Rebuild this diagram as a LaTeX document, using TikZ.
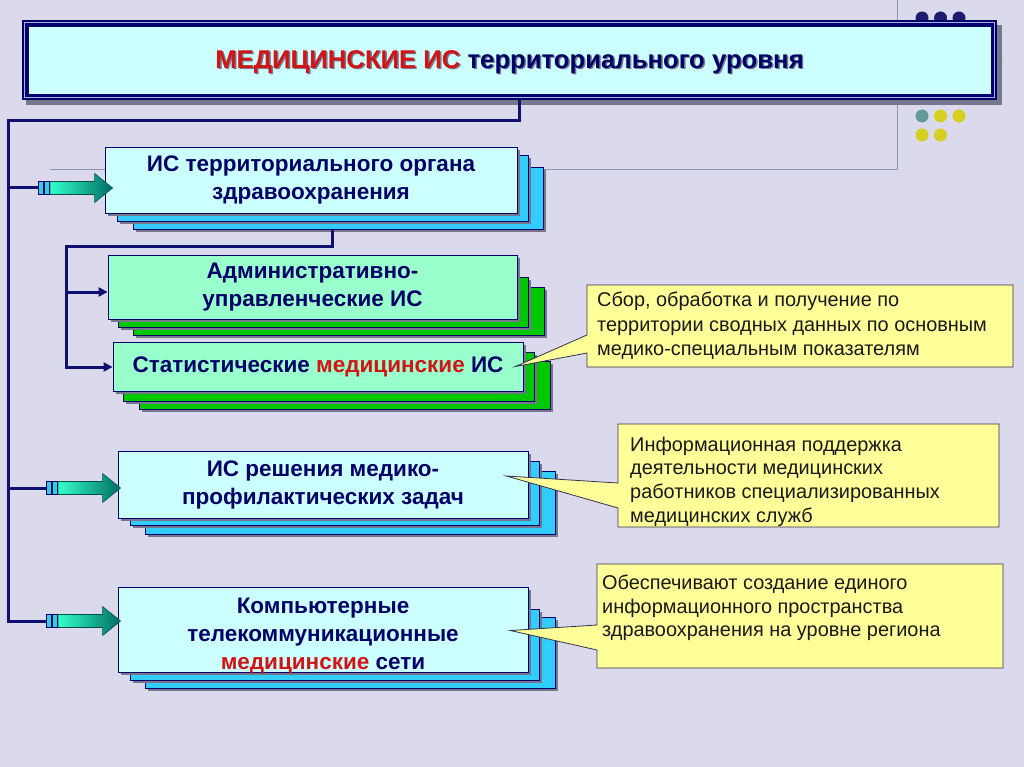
\documentclass[tikz,border=0pt]{standalone}
\usepackage{fontspec}
\setmainfont{Liberation Sans}
\usetikzlibrary{arrows.meta,shadows}
\definecolor{bg}{RGB}{218,218,236}
\definecolor{guide}{RGB}{140,150,175}
\definecolor{navyb}{RGB}{0,0,110}
\definecolor{navyt}{RGB}{0,0,102}
\definecolor{trunkc}{RGB}{16,16,112}
\definecolor{redt}{RGB}{210,20,20}
\definecolor{frontcyan}{RGB}{204,255,255}
\definecolor{backblue}{RGB}{51,204,255}
\definecolor{mint}{RGB}{153,255,204}
\definecolor{greenl}{RGB}{0,200,0}
\definecolor{calloutyellow}{RGB}{255,255,153}
\definecolor{calloutline}{RGB}{50,50,80}
\definecolor{shadowgray}{RGB}{118,118,140}
\definecolor{dotnavy}{RGB}{28,28,110}
\definecolor{dotyellow}{RGB}{214,206,32}
\definecolor{dotteal}{RGB}{102,153,153}
\definecolor{teallight}{RGB}{51,255,204}
\definecolor{tealdark}{RGB}{0,110,100}
\definecolor{tealline}{RGB}{0,80,80}
\definecolor{stripec}{RGB}{51,204,221}
\definecolor{titleline}{RGB}{170,175,225}
\definecolor{textdark}{RGB}{25,25,25}

\newcommand\mylayer[5]{%
  \fill[shadowgray] (#1+3,#2+3) rectangle (#3+3,#4+3);
  \filldraw[fill=#5,draw=navyb,line width=0.7pt] (#1,#2) rectangle (#3,#4);}

\begin{document}
\begin{tikzpicture}[x=1pt,y=-1pt,
  trunk/.style={draw=trunkc,line width=3pt},
  frontbox/.style={draw=navyb,line width=0.8pt,inner sep=0pt,align=center,text=navyt,
    font=\fontsize{22.5}{28}\selectfont\bfseries,
    drop shadow={shadow xshift=3pt,shadow yshift=-3pt,fill=shadowgray,opacity=1}},
  boxtext/.style={inner sep=0pt,align=center,text=navyt,font=\fontsize{22.5}{28}\selectfont\bfseries},
  callout/.style={fill=calloutyellow,draw=calloutline,line width=0.8pt},
  callouttext/.style={anchor=west,inner sep=0pt,align=left,text=textdark,font=\fontsize{19.9}{24.5}\selectfont},
  fatarrow/.pic={
    \filldraw[fill=stripec,draw=navyb,line width=0.6pt] (-74,-6.5) rectangle (-69.5,6.5);
    \filldraw[fill=stripec,draw=navyb,line width=0.6pt] (-68,-6.5) rectangle (-63.5,6.5);
    \path[left color=teallight,right color=tealdark,draw=tealline,line width=0.6pt]
      (-62.5,-6.5) -- (-18,-6.5) -- (-18,-14.5) -- (0,0) -- (-18,14.5) -- (-18,6.5) -- (-62.5,6.5) -- cycle;
  }
]
\useasboundingbox (0,0) rectangle (1024,767);
\fill[bg] (0,0) rectangle (1024,767);

% guide lines
\draw[guide,line width=0.8pt] (50,169) -- (897,169) -- (897,0);

% decorative dots
\fill[dotnavy] (922,18) circle (6.5pt) (940.5,18) circle (6.5pt) (959,18) circle (6.5pt);
\fill[dotyellow] (996,59) circle (6.5pt);
\fill[dotteal] (922,116) circle (6.5pt);
\fill[dotyellow] (940.5,116) circle (6.5pt) (959,116) circle (6.5pt) (922,135) circle (6.5pt) (940.5,135) circle (6.5pt);

% title
\fill[shadowgray] (26,25) rectangle (1002,105);
\node[fill=navyb,minimum width=975,minimum height=80,inner sep=0pt] (titleframe) at (509.5,60) {};
\draw[titleline,line width=1pt] (24.5,22.5) rectangle (994.5,97.5);
\node[fill=frontcyan,draw=navyb,line width=0.8pt,minimum width=963,minimum height=68,inner sep=0pt] (title) at (509.5,60) {};
\node[text=shadowgray,font=\fontsize{25.7}{30}\selectfont\bfseries,inner sep=0pt] (titletextshadow) at (511,63.5)
  {МЕДИЦИНСКИЕ ИС территориального уровня};
\node[text=navyt,font=\fontsize{25.7}{30}\selectfont\bfseries,inner sep=0pt] (titletext) at (509.5,62)
  {{\color{redt}МЕДИЦИНСКИЕ ИС} территориального уровня};

% box 1
\mylayer{133}{167}{543}{229}{backblue}
\mylayer{117}{155}{528}{221}{backblue}
\node[frontbox,fill=frontcyan,minimum width=412,minimum height=66] (b1) at (311,180)
  {ИС территориального органа\\здравоохранения};

% box 2
\mylayer{133}{287}{544}{335}{greenl}
\mylayer{118}{277}{528}{327}{greenl}
\node[frontbox,fill=mint,minimum width=409,minimum height=64] (b2) at (312.5,287)
  {Административно-\\управленческие ИС};

% box 3
\mylayer{139}{361}{550}{409}{greenl}
\mylayer{123}{352}{534}{401}{greenl}
\node[frontbox,fill=mint,minimum width=410,minimum height=49] (b3) at (318,366.5)
  {Статистические {\color{redt}медицинские} ИС};

% box 4
\mylayer{145}{471}{555}{534}{backblue}
\mylayer{130}{461}{539}{525}{backblue}
\node[frontbox,fill=frontcyan,minimum width=410,minimum height=67] (b4) at (323,484.5)
  {ИС решения медико-\\профилактических задач};

% box 5
\mylayer{145}{617}{555}{688}{backblue}
\mylayer{130}{609}{539}{680}{backblue}
\node[frontbox,fill=frontcyan,minimum width=410,minimum height=85] (b5) at (323,629.5) {};
\node[boxtext] (b5text) at ([yshift=-6pt]b5.center)
  {Компьютерные\\телекоммуникационные\\{\color{redt}медицинские} сети};

% connectors
\coordinate (trunkx) at (8,0);
\coordinate (brx) at (66,0);
\coordinate (tip1) at ([shift={(8,8)}]b1.west);
\coordinate (tip2) at ([shift={(0,5)}]b2.west);
\coordinate (tip3) at ([shift={(0,0.5)}]b3.west);
\coordinate (tip4) at ([shift={(3,3.5)}]b4.west);
\coordinate (tip5) at ([shift={(3,-8.5)}]b5.west);
\coordinate (b1stack) at ([shift={(21,16)}]b1.south);

\draw[trunk] ([xshift=9.5pt]titleframe.south) -- ++(0,20) -| (trunkx |- tip5) -- ([xshift=-74pt]tip5);
\draw[trunk] (trunkx |- tip1) -- ([xshift=-74pt]tip1);
\draw[trunk] (trunkx |- tip4) -- ([xshift=-74pt]tip4);
\pic at (tip1) {fatarrow};
\pic at (tip4) {fatarrow};
\pic at (tip5) {fatarrow};

\draw[trunk,-{Triangle[length=9pt,width=9pt]}] (b1stack) -- ++(0,17) -| (brx |- tip3) -- (tip3);
\draw[trunk,-{Triangle[length=9pt,width=9pt]}] (brx |- tip2) -- (tip2);

% callouts
\coordinate (c1tip) at ([xshift=-8pt]b3.east);
\coordinate (c2tip) at ([shift={(-22,-8.5)}]b4.east);
\coordinate (c3tip) at ([shift={(-18,1)}]b5.east);
\filldraw[callout] (587,285) -- (1013,285) -- (1013,367) -- (587,367) -- (587,353) -- (c1tip) -- (587,335) -- cycle;
\filldraw[callout] (618,424) -- (999,424) -- (999,527) -- (618,527) -- (618,508) -- (c2tip) -- (618,483) -- cycle;
\filldraw[callout] (597,564) -- (1003,564) -- (1003,668) -- (597,668) -- (597,650) -- (c3tip) -- (597,625) -- cycle;

\node[callouttext] (c1) at (597,326)
  {Сбор, обработка и получение по\\территории сводных данных по основным\\медико-специальным показателям};
\node[callouttext,font=\fontsize{19.9}{23.7}\selectfont] (c2) at (630,481.5)
  {Информационная поддержка\\деятельности медицинских\\работников специализированных\\медицинских служб};
\node[callouttext,font=\fontsize{19.9}{23.7}\selectfont] (c3) at (602,608)
  {Обеспечивают создание единого\\информационного пространства\\здравоохранения на уровне региона};
\end{tikzpicture}
\end{document}
